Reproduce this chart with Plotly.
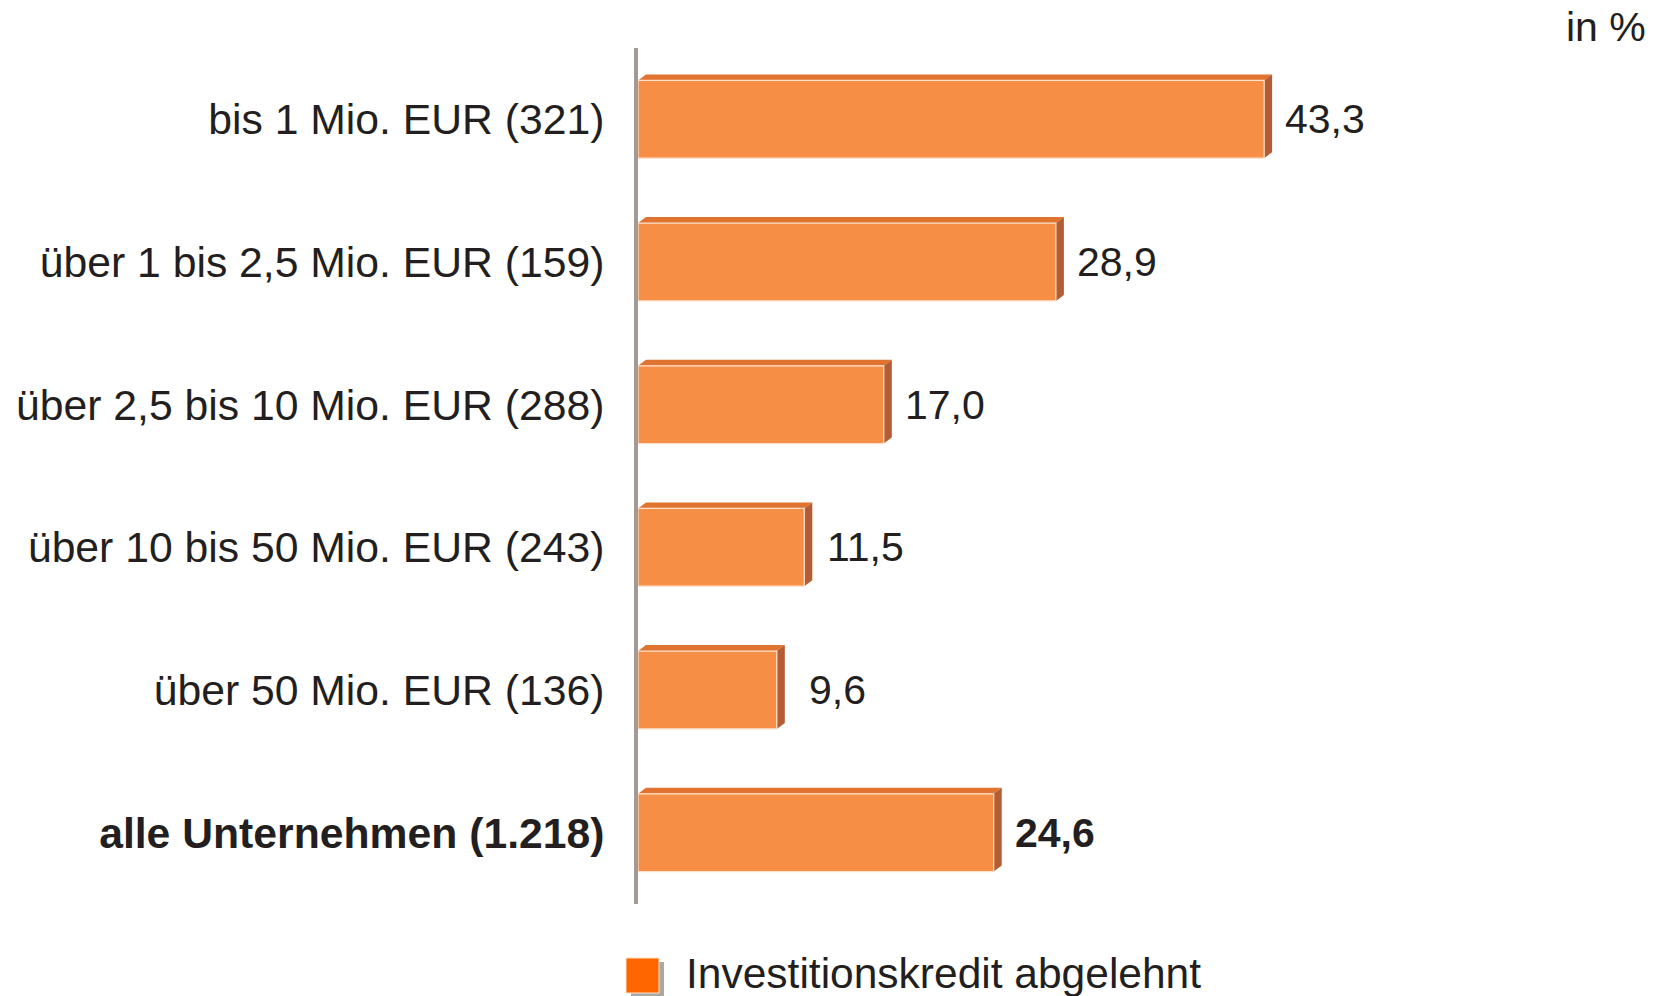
import plotly.graph_objects as go

categories = [
    "bis 1 Mio. EUR (321)",
    "über 1 bis 2,5 Mio. EUR (159)",
    "über 2,5 bis 10 Mio. EUR (288)",
    "über 10 bis 50 Mio. EUR (243)",
    "über 50 Mio. EUR (136)",
    "alle Unternehmen (1.218)",
]
values = [43.3, 28.9, 17.0, 11.5, 9.6, 24.6]
value_labels = ["43,3", "28,9", "17,0", "11,5", "9,6", "24,6"]
bold_flags = [False, False, False, False, False, True]
series_name = "Investitionskredit abgelehnt"
unit_label = "in %"

W, H = 1663, 996
ML, MR, MT, MB = 638, 302, 48, 92
XMAX = 50
PW, PH = W - ML - MR, H - MT - MB
px_per_x = PW / XMAX
px_per_y = PH / 6.0

FACE = "#F68E45"
TOP = "#E0732F"
SIDE = "#B45C33"
TEXT = "#231F20"
FONT = "Liberation Sans, Arial, sans-serif"
BAR_W = 0.545
DX = 8 / px_per_x     # depth in x units
DY = 6 / px_per_y     # depth in category units

idx = list(range(len(categories)))
ticktext = [f"<b>{c}</b>" if b else c for c, b in zip(categories, bold_flags)]

fig = go.Figure()
fig.add_trace(go.Bar(
    x=values, y=idx, orientation="h", width=BAR_W,
    marker=dict(color=FACE, line=dict(color="#FCE3D0", width=1.2)),
    showlegend=False, hoverinfo="skip",
))

shapes = []
for i, v in zip(idx, values):
    top = i - BAR_W / 2
    bot = i + BAR_W / 2
    shapes.append(dict(
        type="path", xref="x", yref="y", layer="below",
        path=f"M 0 {top} L {DX} {top - DY} L {v + DX} {top - DY} L {v} {top} Z",
        fillcolor=TOP, line=dict(width=0),
    ))
    shapes.append(dict(
        type="path", xref="x", yref="y", layer="below",
        path=f"M {v} {top} L {v + DX} {top - DY} L {v + DX} {bot - DY} L {v} {bot} Z",
        fillcolor=SIDE, line=dict(width=0),
    ))

def px2x(px):
    return (px - ML) / PW

def py2y(py):
    return (MT + PH - py) / PH

# custom legend
shapes.append(dict(type="rect", xref="paper", yref="paper",
                   x0=px2x(631), x1=px2x(664), y0=py2y(997), y1=py2y(962),
                   fillcolor="#A8A8A8", line=dict(width=0)))
shapes.append(dict(type="rect", xref="paper", yref="paper",
                   x0=px2x(626), x1=px2x(659), y0=py2y(993), y1=py2y(958),
                   fillcolor="#FF6600", line=dict(color="#FFE0C8", width=1)))

annotations = []
for i, v, lab, b in zip(idx, values, value_labels, bold_flags):
    annotations.append(dict(
        x=v, y=i, xref="x", yref="y", text=f"<b>{lab}</b>" if b else lab,
        showarrow=False, xanchor="center", yanchor="middle", xshift=61,
        font=dict(size=41, color=TEXT, family=FONT),
    ))
annotations.append(dict(
    x=px2x(684), y=py2y(973), xref="paper", yref="paper", text=series_name,
    showarrow=False, xanchor="left", yanchor="middle",
    font=dict(size=42.5, color=TEXT, family=FONT),
))
annotations.append(dict(
    x=px2x(1648), y=py2y(27), xref="paper", yref="paper", text=unit_label,
    showarrow=False, xanchor="right", yanchor="middle",
    font=dict(size=41, color=TEXT, family=FONT),
))

fig.update_layout(
    width=W, height=H,
    margin=dict(l=ML, r=MR, t=MT, b=MB, pad=0),
    paper_bgcolor="white", plot_bgcolor="white",
    xaxis=dict(range=[0, XMAX], visible=False, fixedrange=True),
    yaxis=dict(
        range=[5.5, -0.5], tickvals=idx, ticktext=ticktext,
        showline=True, linecolor="#A39A96", linewidth=4,
        showgrid=False, zeroline=False, ticks="", ticklabelstandoff=21,
        tickfont=dict(size=42.7, color=TEXT, family=FONT),
        layer="below traces", fixedrange=True,
    ),
    shapes=shapes, annotations=annotations,
    bargap=0.45, showlegend=False,
)

fig.write_html(
    "out.html",
    config={"displayModeBar": False},
    post_script="document.body.style.margin='0';document.body.style.overflow='hidden';",
)
